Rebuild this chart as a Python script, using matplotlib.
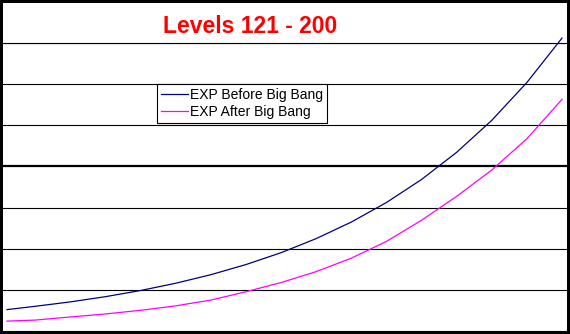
import matplotlib.pyplot as plt

# Levels and EXP (chart units, one gridline = 1 unit)
levels = [121, 125, 130, 135, 140, 145, 150, 155, 160, 165, 170, 175, 180, 185, 190, 195, 200]
exp_before = [0.52, 0.60, 0.707, 0.834, 0.984, 1.16, 1.368, 1.614, 1.903, 2.245, 2.647, 3.122, 3.682, 4.343, 5.12, 6.04, 7.12]
exp_after = [0.24, 0.265, 0.341, 0.414, 0.503, 0.611, 0.751, 0.954, 1.177, 1.443, 1.77, 2.176, 2.691, 3.272, 3.913, 4.673, 5.63]
grid_values = [0, 1, 2, 3, 4, 5, 6, 7]

plt.rcParams['font.family'] = ['Liberation Sans', 'DejaVu Sans']

fig = plt.figure(figsize=(5.7, 3.34), dpi=100)
fig.patch.set_facecolor('white')
fig.patch.set_edgecolor('black')
fig.patch.set_linewidth(4.3)

ax = fig.add_axes([3 / 570, 3 / 334, 564 / 570, 288 / 334])
ax.plot(levels, exp_before, color='#000080', lw=0.9, label='EXP Before Big Bang', clip_on=False)
ax.plot(levels, exp_after, color='#ff00ff', lw=0.9, label='EXP After Big Bang', clip_on=False)

ax.set_xlim(120.43, 200.71)
ax.set_ylim(0, 7)
ax.set_yticks(grid_values)
ax.grid(axis='y', color='black', lw=0.8)
ax.get_ygridlines()[4].set_linewidth(1.6)
ax.tick_params(left=False, bottom=False, labelleft=False, labelbottom=False)
for s in ['left', 'right', 'bottom']:
    ax.spines[s].set_visible(False)
ax.spines['top'].set_linewidth(0.8)

fig.text(250 / 570, 1 - 33 / 334, 'Levels 121 - 200', color='#ff0000', fontsize=16.5,
         fontweight='bold', ha='center', va='baseline')

leg = ax.legend(loc='upper left', bbox_to_anchor=(157 / 570, 1 - 84 / 334),
                bbox_transform=fig.transFigure, frameon=True, fancybox=False,
                edgecolor='black', framealpha=1, fontsize=10, handlelength=1.9,
                handletextpad=0.15, borderpad=0.3, labelspacing=0.22, borderaxespad=0)
leg.get_frame().set_linewidth(0.8)

fig.savefig('out.png', dpi=100, facecolor='white', edgecolor='black')
